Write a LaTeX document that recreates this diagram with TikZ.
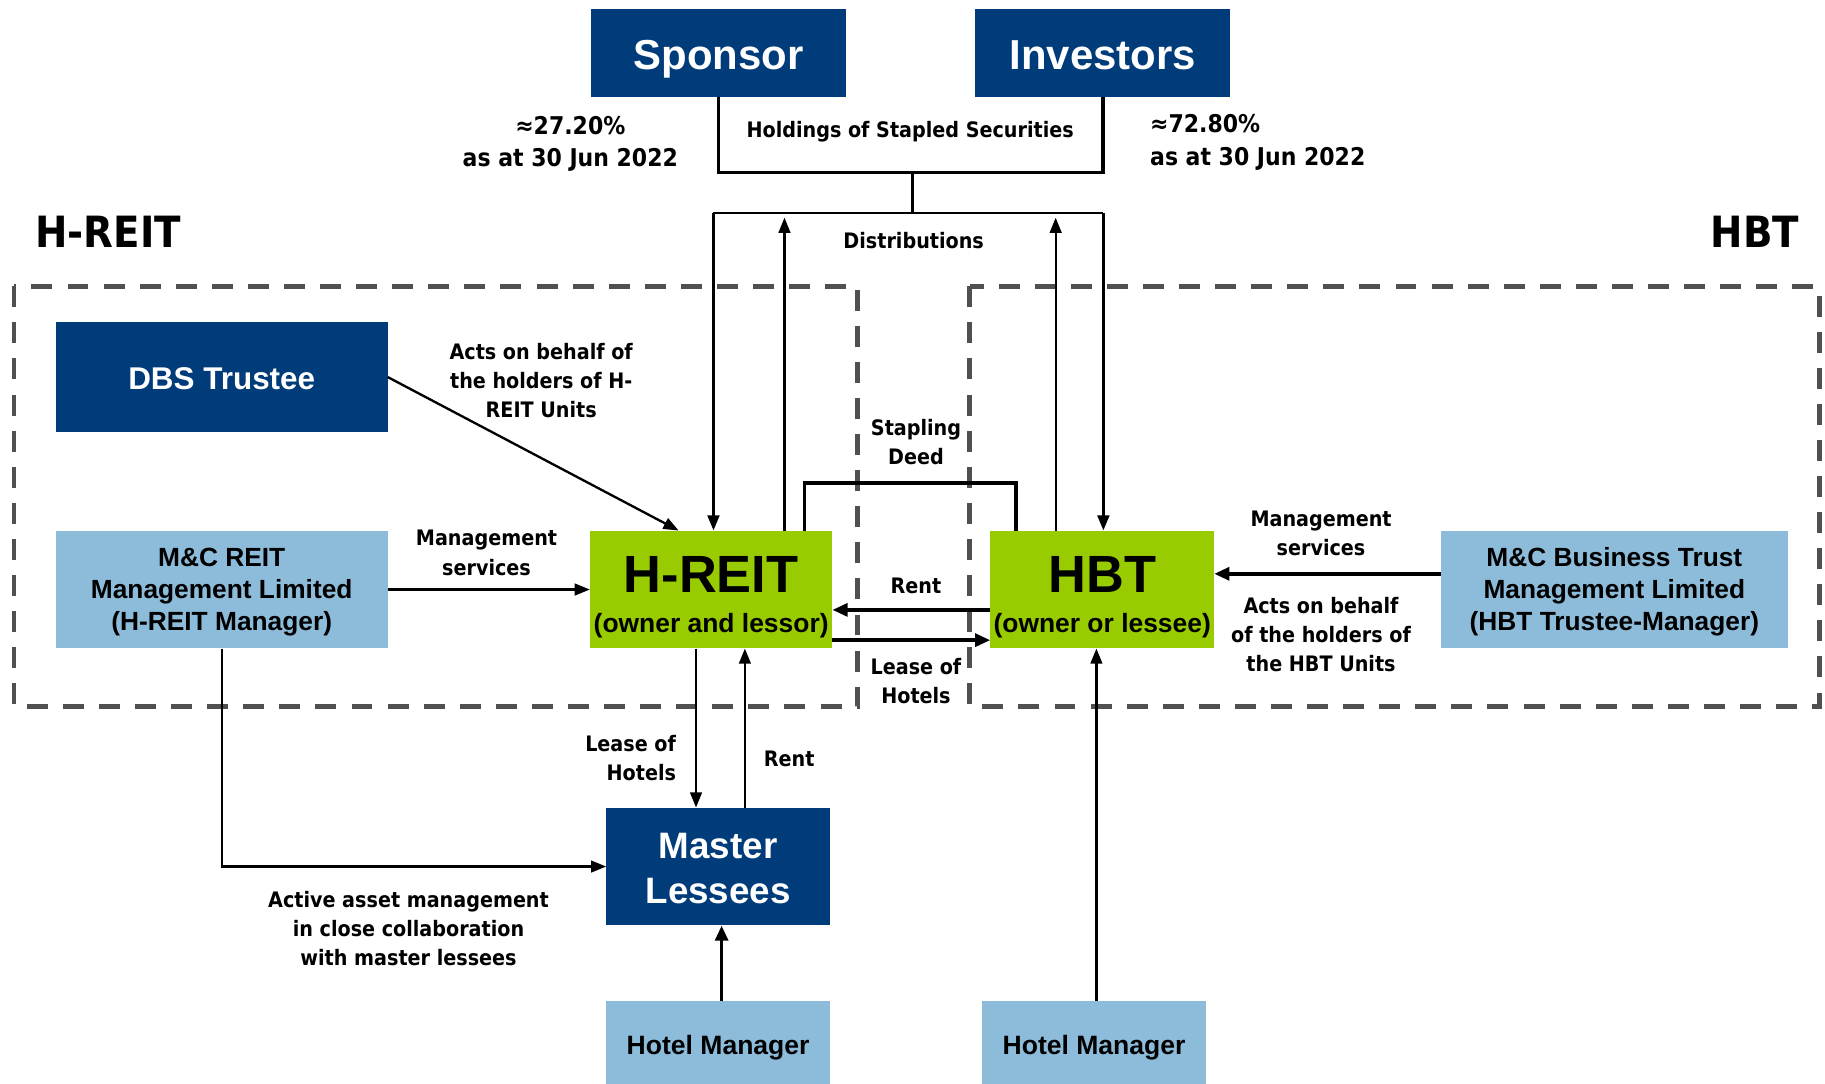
\documentclass[tikz,border=0pt]{standalone}
\usepackage{fontspec}
\setmainfont{Liberation Sans}
\newfontfamily\lblfont{DejaVu Sans Condensed Bold}
\usepackage{tikz}
\usetikzlibrary{arrows.meta}
\definecolor{dblue}{HTML}{003B7A}
\definecolor{lblue}{HTML}{8DBCDB}
\definecolor{lgreen}{HTML}{99CC00}
\definecolor{dashgray}{HTML}{505050}

\begin{document}
\begin{tikzpicture}[x=1pt,y=-1pt,
		darkbox/.style={fill=dblue,text=white,inner sep=0pt,align=center,font=\bfseries},
		lightbox/.style={fill=lblue,text=black,inner sep=0pt,align=center,font=\bfseries\fontsize{22.6}{27.5}\selectfont,text height=75pt,text depth=3.8pt},
		greenbox/.style={fill=lgreen,text=black,inner sep=0pt,align=center,font=\bfseries\fontsize{22.7}{34}\selectfont,text height=77pt,text depth=3.8pt},
		lbl/.style={font=\lblfont\fontsize{18.3}{25}\selectfont,align=center,inner sep=0pt},
		arr/.style={line width=2pt,-{Triangle[length=13pt,width=10pt]}},
		arrb/.style={line width=3pt,-{Triangle[length=13pt,width=11pt]}},
		dashbox/.style={dashgray,line width=4pt,dash pattern=on 18pt off 13pt}]
	\useasboundingbox (0,0) rectangle (1568,931.3);
	\draw[dashbox] (12,246) rectangle (737,607);
	\draw[dashbox] (833,246) rectangle (1563,607);
	\node[darkbox,minimum width=219,minimum height=75,font=\bfseries\fontsize{36}{36}\selectfont,text height=32pt,text depth=3.2pt] (sponsor) at (617.5,45.5) {Sponsor};
	\node[darkbox,minimum width=219,minimum height=75,font=\bfseries\fontsize{36}{36}\selectfont,text height=32pt,text depth=3.2pt] (investors) at (947.5,45.5) {Investors};
	\node[darkbox,minimum width=285,minimum height=94,font=\bfseries\fontsize{27}{27}\selectfont,text height=24pt,text depth=2.7pt] (dbs) at (190.5,324) {DBS Trustee};
	\node[lightbox,minimum width=285,minimum height=101] (mcreit) at (190.5,506.5) {M\&C REIT\\Management Limited\\(H-REIT Manager)};
	\node[greenbox,minimum width=208,minimum height=101] (hreit) at (611,506.5) {{\fontsize{45}{45}\selectfont H-REIT}\\(owner and lessor)};
	\node[greenbox,minimum width=192,minimum height=101] (hbt) at (947,506.5) {{\fontsize{45}{45}\selectfont HBT}\\(owner or lessee)};
	\node[lightbox,minimum width=298,minimum height=101] (mcbt) at (1387,506.5) {M\&C Business Trust\\Management Limited\\(HBT Trustee-Manager)};
	\node[darkbox,minimum width=192,minimum height=101,font=\bfseries\fontsize{31.6}{39}\selectfont,text height=67pt,text depth=3.4pt] (master) at (617,744.5) {Master\\Lessees};
	\node[lightbox,minimum width=192,minimum height=80,font=\bfseries\fontsize{22.8}{24}\selectfont,text height=16pt,text depth=3.7pt] (hmA) at (617,900) {Hotel Manager};
	\node[lightbox,minimum width=192,minimum height=80,font=\bfseries\fontsize{22.8}{24}\selectfont,text height=16pt,text depth=3.7pt] (hmB) at (940,900) {Hotel Manager};
	\node[lbl,font=\lblfont\fontsize{37}{37}\selectfont,anchor=west] (reitlabel) at (30,199) {H-REIT};
	\node[lbl,font=\lblfont\fontsize{37}{37}\selectfont,anchor=east] (hbtlabel) at (1546,199) {HBT};
	\node[lbl,font=\lblfont\fontsize{21}{28}\selectfont] (pctA) at (490,123.5) {≈27.20\%\\as at 30 Jun 2022};
	\node[lbl,font=\lblfont\fontsize{21}{28}\selectfont,align=left,anchor=west] (pctB) at (988,122.5) {≈72.80\%\\as at 30 Jun 2022};
	\coordinate (holdbar) at (784,148);
	\coordinate (distL) at (613,183);
	\coordinate (distR) at (948,183);
	\coordinate (upL) at (674,187);
	\coordinate (upR) at (907,187);
	\coordinate (stapL) at (691,415);
	\coordinate (stapR) at (873,415);
	\draw[line width=3pt] (sponsor.south) -- (sponsor.south |- holdbar) -- (investors.south |- holdbar) -- (investors.south);
	\node[lbl] (holdings) at (782,113) {Holdings of Stapled Securities};
	\draw[line width=2.5pt] (holdbar) -- (holdbar |- distL);
	\draw[line width=2.5pt] (distL) -- (distR);
	\draw[arr,line width=2.5pt] (distL) -- (distL |- hreit.north);
	\draw[arr,line width=2.5pt] (distR) -- (distR |- hbt.north);
	\draw[arr] (upL |- hreit.north) -- (upL);
	\draw[arr] (upR |- hbt.north) -- (upR);
	\node[lbl] (dist) at (785,207) {Distributions};
	\draw[line width=3pt] (stapL |- hreit.north) -- (stapL) -- (stapR) -- (stapR |- hbt.north);
	\node[lbl] (stapling) at (787,380) {Stapling\\Deed};
	\draw[arr] (dbs.east) -- ([xshift=-28pt]hreit.north);
	\node[lbl] (actsA) at (465,327) {Acts on behalf of\\the holders of H-\\REIT Units};
	\draw[arr] (mcreit.east) -- (hreit.west);
	\node[lbl] (mgmtA) at (418,475) {Management\\services};
	\draw[arrb] ([yshift=13.5pt]mcbt.west) -- ([yshift=13.5pt]hbt.east);
	\node[lbl] (mgmtB) at (1135,458.5) {Management\\services};
	\node[lbl] (actsB) at (1135,545) {Acts on behalf\\of the holders of\\the HBT Units};
	\draw[arrb] ([yshift=-17.5pt]hbt.west) -- ([yshift=-17.5pt]hreit.east);
	\node[lbl] (rentA) at (787,503) {Rent};
	\draw[arrb] ([yshift=-43.5pt]hreit.east) -- ([yshift=-43.5pt]hbt.west);
	\node[lbl] (leaseA) at (787,585) {Lease of\\Hotels};
	\draw[arr] ([xshift=-13pt]hreit.south) -- ([xshift=-13pt]hreit.south |- master.north);
	\node[lbl,align=right,anchor=east] (leaseB) at (581,651) {Lease of\\Hotels};
	\draw[arr] ([xshift=23pt]master.north) -- ([xshift=23pt]master.north |- hreit.south);
	\node[lbl] (rentB) at (678,652) {Rent};
	\draw[arr] (mcreit.south) |- (master.west);
	\node[lbl] (active) at (351,798) {Active asset management\\in close collaboration\\with master lessees};
	\draw[arrb] ([xshift=3pt]hmA.north) -- ([xshift=3pt]hmA.north |- master.south);
	\draw[arr] ([xshift=2pt]hmB.north) -- ([xshift=2pt]hmB.north |- hbt.south);
\end{tikzpicture}
\end{document}
